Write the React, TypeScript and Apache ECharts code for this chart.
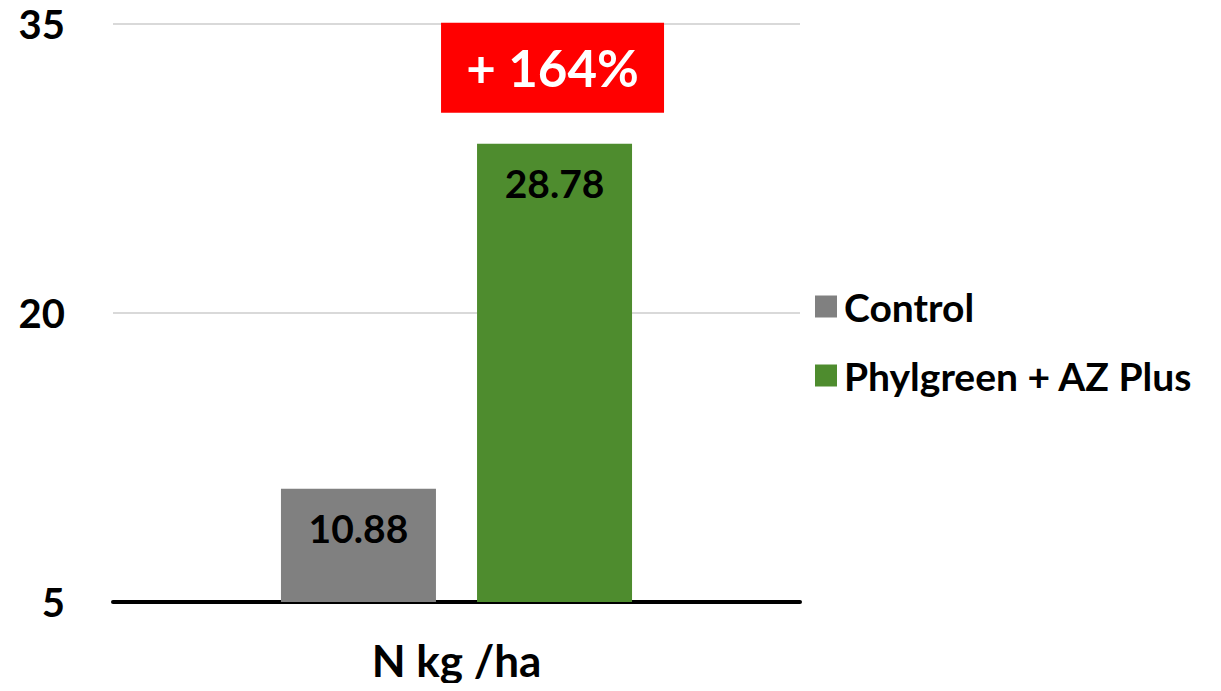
import React, { useEffect, useRef } from "react";
import * as echarts from "echarts";

const categories = ["N kg /ha"];
const controlValues = [10.88];
const phylgreenValues = [28.78];
const seriesNames = ["Control", "Phylgreen + AZ Plus"];
const increaseLabel = "+ 164%";
const yMin = 5;
const yMax = 35;
const yInterval = 15;

const FONT = "Lato, 'Open Sans', sans-serif";

export default function App() {
  const ref = useRef<HTMLDivElement>(null);
  useEffect(() => {
    if (!ref.current) return;
    const chart = echarts.init(ref.current, undefined, { renderer: "svg" });
    const labelStyle = {
      show: true,
      position: "insideTop",
      distance: 20,
      color: "#000",
      fontFamily: FONT,
      fontWeight: "bold",
      fontSize: 39,
      formatter: (p: any) => p.value.toFixed(2),
    };
    chart.setOption({
      animation: false,
      textStyle: { fontFamily: FONT },
      grid: { left: 113, right: 421, top: 24, bottom: 89, containLabel: false },
      legend: {
        orient: "vertical",
        left: 810,
        top: 282,
        itemWidth: 22,
        itemHeight: 22,
        itemGap: 30,
        icon: "rect",
        textStyle: {
          fontFamily: FONT,
          fontWeight: "bold",
          fontSize: 39,
          lineHeight: 34,
          color: "#000",
          padding: [0, 0, 0, 2],
        },
        data: seriesNames,
      },
      xAxis: {
        type: "category",
        data: categories,
        axisLine: { show: true, lineStyle: { color: "#000", width: 4 } },
        axisTick: { show: false },
        axisLabel: {
          color: "#000",
          fontFamily: FONT,
          fontWeight: "bold",
          fontSize: 44,
          margin: 36,
        },
      },
      yAxis: {
        type: "value",
        min: yMin,
        max: yMax,
        interval: yInterval,
        axisLine: { show: false },
        axisTick: { show: false },
        splitLine: { lineStyle: { color: "#d9d9d9", width: 2 } },
        axisLabel: {
          color: "#000",
          fontFamily: FONT,
          fontWeight: "bold",
          fontSize: 40,
          margin: 48,
        },
      },
      series: [
        {
          name: seriesNames[0],
          type: "bar",
          data: controlValues,
          barWidth: 155,
          barGap: "26.5%",
          itemStyle: { color: "#808080" },
          label: labelStyle,
        },
        {
          name: seriesNames[1],
          type: "bar",
          data: phylgreenValues,
          barWidth: 155,
          itemStyle: { color: "#4e8c2e" },
          label: labelStyle,
          markPoint: {
            symbol: "rect",
            symbolSize: 0,
            data: [{ type: "max" }],
            label: {
              show: true,
              formatter: increaseLabel,
              position: "inside",
              offset: [-2, -76],
              color: "#fff",
              backgroundColor: "#ff0000",
              fontFamily: FONT,
              fontWeight: "bold",
              fontSize: 51,
              lineHeight: 51,
              width: 223,
              height: 90,
              align: "center",
              verticalAlign: "middle",
            },
          },
        },
      ],
    });
    return () => chart.dispose();
  }, []);
  return <div ref={ref} style={{ width: 1221, height: 691, margin: -8 }} />;
}
